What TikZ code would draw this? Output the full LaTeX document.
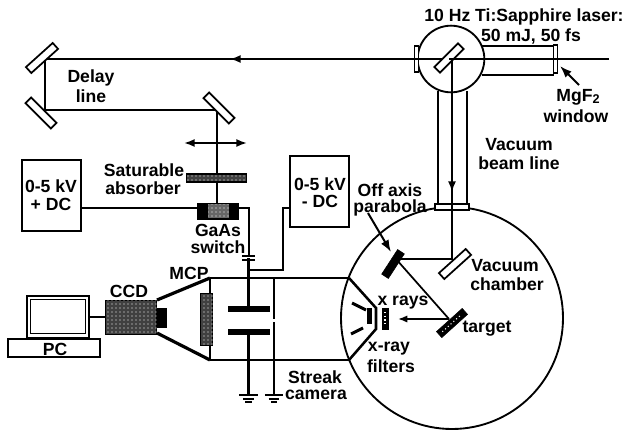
\documentclass[tikz,border=0pt]{standalone}
\usepackage{fontspec}
\setmainfont{Liberation Sans}
\usetikzlibrary{arrows.meta,patterns,shapes.geometric}
\tikzset{
  wire/.style={line width=1.3pt},
  thick wire/.style={line width=1.9pt},
  lbl/.style={font=\fontsize{13.2}{14}\selectfont\bfseries,inner sep=0pt,align=center},
  mirror/.style={draw,line width=1.3pt,fill=white,minimum width=27pt,minimum height=6pt,inner sep=0pt,rectangle},
  box/.style={draw,line width=1.4pt,inner sep=0pt,rectangle,fill=white},
  solid block/.style={draw,fill=black,inner sep=0pt,rectangle},
  dotted block/.style={draw,line width=1.2pt,fill=black!75,postaction={pattern=dots,pattern color=white},inner sep=0pt,rectangle},
  beamarrow/.style={-{Latex[length=7pt,width=5.5pt]},wire},
  gnd/.style={line width=1.3pt},
}
\newcommand{\gndsym}[1]{%
  \draw[gnd] ([xshift=-6.8pt]#1) -- ([xshift=6.8pt]#1);
  \draw[gnd,line width=1.6pt] ([xshift=-4pt,yshift=-3pt]#1) -- ([xshift=4pt,yshift=-3pt]#1);
  \draw[gnd,line width=1.4pt] ([xshift=-2.4pt,yshift=-5.4pt]#1) -- ([xshift=2.4pt,yshift=-5.4pt]#1);
}
\begin{document}
\begin{tikzpicture}[x=0.75pt,y=-0.75pt]
\useasboundingbox (0,0) rectangle (628,432);
% named points
\coordinate (laserin) at (609,59);
\coordinate (bsc) at (451,59);
\coordinate (mirA) at (45,59);
\coordinate (mirB) at (45,110);
\coordinate (mirC) at (217,110);
\coordinate (dbl1) at (184,143);
\coordinate (dbl2) at (247,143);
\coordinate (beamturn) at (452,259);
\coordinate (parab) at (396,259);
\coordinate (targ) at (449,319);
\coordinate (xend) at (398,319);
\coordinate (gnda) at (248.5,395);
\coordinate (gndb) at (274,395);
\coordinate (capa) at (248.5,258);
\coordinate (platea) at (248.5,309);
\coordinate (plateb) at (248.5,332);

% vacuum tube and chamber
\node[circle,draw,line width=1.4pt,minimum size=166.5pt,inner sep=0pt] (chamber) at (452,318) {};
\draw[wire] (438,91) -- (438,205) (467,91) -- (467,205);
\node[box,minimum width=25.5pt,minimum height=4pt] (flange) at (452,207) {};
\draw[wire] (482,46) -- (554,46) (482,75) -- (554,75);
\node[circle,draw,line width=1.4pt,fill=white,minimum size=50pt,inner sep=0pt] (lasercirc) at (451,59) {};
\node[box,minimum width=3pt,minimum height=20pt] (winL) at (416.5,59) {};
\node[box,minimum width=3pt,minimum height=21pt] (winR) at (555.5,59) {};

% beams
\draw[wire] (laserin) -- (mirA) -- (mirB) -- (mirC) -- (217,203);
\draw[-{Latex[length=8pt,width=6pt]},wire] (300,59) -- (230,59);
\draw[wire] (452,59) -- (beamturn) -- (parab) -- (targ);
\draw[-{Latex[length=8pt,width=6pt]},wire] (452,170) -- (452,192);
\draw[beamarrow] (targ) -- (xend);
\draw[{Latex[length=8pt,width=6pt]}-{Latex[length=8pt,width=6pt]},wire] (dbl1) -- (dbl2);

% mirrors
\node[mirror,rotate=42] (m1) at (42,58) {};
\node[mirror,rotate=-45] (m2) at (41,113) {};
\node[mirror,rotate=-45] (m3) at (219,108) {};
\node[mirror,rotate=45,minimum width=25pt] (bs) at (449,58) {};
\node[mirror,rotate=42] (m4) at (455,264) {};
\node[solid block,rotate=57,minimum width=22pt,minimum height=6pt] (pb) at (393,264) {};
\node[solid block,rotate=42,minimum width=26pt,minimum height=6pt] (tg) at (452,323) {};
\draw[white,line width=0.8pt,dotted,rotate around={42:(452,323)}] (439,323) -- (465,323);
\draw[wire] (449,59) -- (laserin);
\draw[wire] (452,59) -- (452,70);

% saturable absorber and switch
\node[dotted block,minimum width=45pt,minimum height=6pt] (abs) at (216.5,178) {};
\node[solid block,minimum width=31pt,minimum height=12pt] (sw) at (217.5,211) {};
\node[dotted block,minimum width=15.75pt,minimum height=10.5pt,draw=none,fill=black!60] (swi) at (218.5,211) {};

% HV boxes
\node[box,minimum width=44pt,minimum height=53pt,align=center] (plusdc) at (51.5,195.5) {};
\node[lbl] at (51,186) {0-5 kV};
\node[lbl] at (51,204) {+ DC};
\node[box,minimum width=44pt,minimum height=53pt] (minusdc) at (319.5,191.5) {};
\node[lbl] at (320,184) {0-5 kV};
\node[lbl] at (320,201) {- DC};
\draw[wire] (plusdc.east |- 0,208) -- (sw.west |- 0,208);
\draw[wire] (sw.east |- 0,208) -- (249,208) -- (249,256);
\draw[wire] (242,256) -- (255,256) (242,260) -- (255,260);
\draw[wire] (minusdc.west |- 0,208) -- (283,208) -- (283,270) -- (249,270);
\draw[thick wire] (capa) -- (platea);
\draw[thick wire] (plateb) -- (gnda);
\node[solid block,minimum width=31pt,minimum height=4pt] (pa) at (platea) {};
\node[solid block,minimum width=31pt,minimum height=4pt] (pc) at (plateb) {};
\draw[thick wire] (274,278) -- (274,319) (274,322) -- (gndb);
\gndsym{gnda}
\gndsym{gndb}

% streak camera
\draw[thick wire] (210,278) -- (349,278);
\draw[wire,line width=1.6pt] (210,360) -- (349,360);
\draw[wire,line width=1.6pt] (210,278) -- (210,360);
\draw[line width=2.4pt] (157,300) -- (210,278);
\draw[line width=2.4pt] (157,333) -- (210,360);
\node[dotted block,minimum width=9pt,minimum height=39pt] (mcp) at (206.5,319.5) {};
\node[dotted block,minimum width=38pt,minimum height=25.5pt] (ccd) at (131,317.5) {};
\node[solid block,minimum width=7pt,minimum height=14pt] (lens) at (162,317.5) {};
\draw[thick wire] (349,278) -- (376,308) -- (376,329) -- (349,360);
\draw[line width=2.2pt] (352,303) -- (366,310);
\draw[line width=2.2pt] (351,334) -- (363,328);
\node[solid block,minimum width=3pt,minimum height=11pt] (pcath) at (369,316) {};
\node[solid block,minimum width=4.5pt,minimum height=15.5pt] (filt) at (385,318.5) {};
\draw[white,line width=0.8pt,dotted] (385,312) -- (385,326);

% PC
\node[box,minimum width=46.5pt,minimum height=31.5pt] (scr) at (58,317) {};
\node[box,line width=0.9pt,minimum width=41pt,minimum height=25.5pt] (scri) at (58,316.5) {};
\node[box,minimum width=69pt,minimum height=13.5pt] (pcb) at (54,348) {};
\node[lbl] at (55,349.5) {PC};
\draw[wire] (scr.east |- 0,317) -- (ccd.west |- 0,317);

% arrows to labels
\coordinate (oa) at (368,213);
\draw[-{Latex[length=9pt,width=6.5pt]},line width=1.5pt] (oa) -- (391,252);
\coordinate (mgf) at (579,85);
\draw[-{Latex[length=9pt,width=6.5pt]},line width=1.5pt] (mgf) -- (560,66);

% labels
\node[lbl] at (91,78) {Delay};
\node[lbl] at (91,96) {line};
\node[lbl] at (144,170) {Saturable};
\node[lbl] at (143,188) {absorber};
\node[lbl] at (218,230) {GaAs};
\node[lbl] at (218,247) {switch};
\node[lbl] at (524,17) {10 Hz Ti:Sapphire laser:};
\node[lbl] at (531,36) {50 mJ, 50 fs};
\node[lbl] at (578,97) {MgF\raisebox{-1.5pt}{\fontsize{9.5}{10}\selectfont 2}};
\node[lbl] at (576,116) {window};
\node[lbl] at (519,145) {Vacuum};
\node[lbl] at (519,163) {beam line};
\node[lbl] at (390,190) {Off axis};
\node[lbl] at (390,208) {parabola};
\node[lbl] at (505,266) {Vacuum};
\node[lbl] at (507,284) {chamber};
\node[lbl] at (403,303) {x rays};
\node[lbl] at (487,329) {target};
\node[lbl] at (389,349) {x-ray};
\node[lbl] at (391,366) {filters};
\node[lbl] at (315,377) {Streak};
\node[lbl] at (316,395) {camera};
\node[lbl] at (189,273) {MCP};
\node[lbl] at (129,291) {CCD};
\end{tikzpicture}
\end{document}
